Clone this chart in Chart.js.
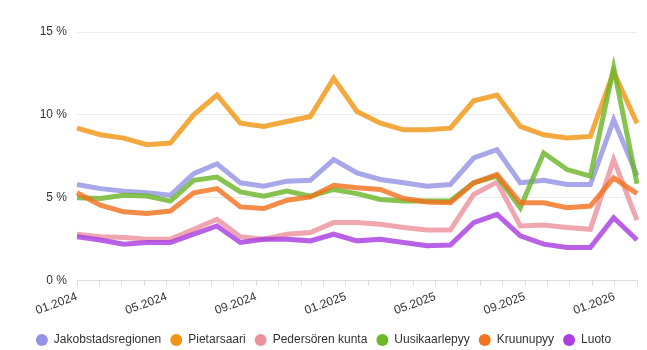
<!DOCTYPE html>
<html>
<head>
<meta charset="utf-8">
<script src="https://cdn.jsdelivr.net/npm/chart.js@4.4.1/dist/chart.umd.min.js"></script>
<style>
  html, body { margin: 0; padding: 0; background: #fff; }
  #wrap { width: 647px; height: 350px; }
</style>
</head>
<body>
<div id="wrap"><canvas id="chart"></canvas></div>
<script>
// months with data
const months = ["01.2024", "02.2024", "03.2024", "04.2024", "05.2024", "06.2024", "07.2024", "08.2024",
    "09.2024", "10.2024", "11.2024", "12.2024", "01.2025", "02.2025", "03.2025", "04.2025", "05.2025",
    "06.2025", "07.2025", "08.2025", "09.2025", "10.2025", "11.2025", "12.2025", "01.2026"];
// labels of the visible axis
const axisLabels = months.concat(["02.2026"]);
const yTicks = [0, 5, 10, 15];

const jakobstadsregionen = [5.8, 5.55, 5.4, 5.3, 5.15, 6.45, 7.05, 5.9, 5.7, 6.0, 6.05, 7.3, 6.5, 6.1, 5.9, 5.7, 5.8, 7.4, 7.9, 5.9, 6.05, 5.8, 5.8, 9.7, 6.35];
const pietarsaari = [9.2, 8.8, 8.6, 8.2, 8.3, 10.0, 11.2, 9.5, 9.3, 9.6, 9.9, 12.2, 10.2, 9.5, 9.1, 9.1, 9.2, 10.85, 11.2, 9.3, 8.8, 8.6, 8.7, 12.6, 9.5];
const pedersoren = [2.8, 2.65, 2.6, 2.5, 2.5, 3.1, 3.7, 2.65, 2.5, 2.8, 2.9, 3.5, 3.5, 3.4, 3.2, 3.05, 3.05, 5.2, 5.95, 3.3, 3.35, 3.2, 3.1, 7.3, 3.65];
const uusikaarlepyy = [5.0, 4.95, 5.15, 5.1, 4.8, 6.05, 6.25, 5.35, 5.1, 5.4, 5.1, 5.5, 5.25, 4.9, 4.8, 4.8, 4.8, 5.9, 6.3, 4.4, 7.7, 6.7, 6.3, 12.85, 5.85];
const kruunupyy = [5.3, 4.55, 4.15, 4.05, 4.2, 5.3, 5.55, 4.45, 4.35, 4.85, 5.05, 5.75, 5.6, 5.5, 4.95, 4.75, 4.7, 5.9, 6.4, 4.7, 4.7, 4.4, 4.5, 6.2, 5.25];
const luoto = [2.65, 2.45, 2.2, 2.3, 2.3, 2.8, 3.3, 2.3, 2.5, 2.5, 2.4, 2.8, 2.4, 2.5, 2.3, 2.1, 2.15, 3.5, 4.0, 2.7, 2.2, 2.0, 2.0, 3.8, 2.45];

const FONT = "'Liberation Sans', Arial, sans-serif";

function serie(label, data, rgb, order) {
    return {
        label: label,
        data: data,
        xAxisID: "x2",
        borderColor: "rgba(" + rgb + ",0.82)",
        backgroundColor: "rgb(" + rgb + ")",
        borderWidth: 5,
        pointRadius: 0,
        pointHoverRadius: 0,
        tension: 0,
        fill: false,
        order: order
    };
}

const ctx = document.getElementById("chart").getContext("2d");
const chart = new Chart(ctx, {
    type: "line",
    data: {
        labels: months,
        datasets: [
            serie("Jakobstadsregionen", jakobstadsregionen, "148,148,228", 0),
            serie("Pietarsaari", pietarsaari, "240,150,20", -1),
            serie("Pedersören kunta", pedersoren, "236,146,158", -2),
            serie("Uusikaarlepyy", uusikaarlepyy, "108,182,42", -3),
            serie("Kruunupyy", kruunupyy, "242,114,30", -4),
            serie("Luoto", luoto, "170,62,224", -5)
        ]
    },
    options: {
        responsive: true,
        maintainAspectRatio: false,
        animation: false,
        layout: { padding: { top: 32, right: 10, left: 10, bottom: -6 } },
        plugins: {
            tooltip: { enabled: false },
            legend: {
                position: "bottom",
                labels: {
                    usePointStyle: true,
                    pointStyle: "circle",
                    pointStyleWidth: 12,
                    boxHeight: 8.5,
                    padding: 9,
                    color: "#333",
                    font: { family: FONT, size: 12 },
                    sort: (a, b) => a.datasetIndex - b.datasetIndex,
                    generateLabels: function (c) {
                        const items = Chart.defaults.plugins.legend.labels.generateLabels(c);
                        items.forEach(it => {
                            it.lineWidth = 0;
                            it.strokeStyle = "transparent";
                        });
                        return items;
                    }
                }
            }
        },
        scales: {
            x: {
                type: "category",
                labels: axisLabels,
                offset: false,
                grid: { drawOnChartArea: false, tickLength: 5, color: "#dcdcdc" },
                border: { color: "#dcdcdc" },
                afterFit: function (axis) { axis.height += 3; },
                ticks: {
                    autoSkip: false,
                    minRotation: 20,
                    maxRotation: 20,
                    padding: 4,
                    color: "#333",
                    font: { family: FONT, size: 12 },
                    callback: function (v, i) { return i % 4 === 0 ? axisLabels[i] : ""; }
                }
            },
            x2: {
                type: "category",
                labels: months,
                display: false,
                offset: false
            },
            y: {
                min: yTicks[0],
                max: yTicks[yTicks.length - 1],
                grid: { color: "#ebebeb", drawTicks: false },
                border: { display: false },
                afterBuildTicks: function (axis) { axis.ticks = yTicks.map(v => ({ value: v })); },
                afterFit: function (axis) { axis.width = 67; },
                ticks: {
                    padding: 10,
                    color: "#333",
                    font: { family: FONT, size: 12 },
                    callback: v => v + " %"
                }
            }
        }
    }
});
</script>
</body>
</html>
